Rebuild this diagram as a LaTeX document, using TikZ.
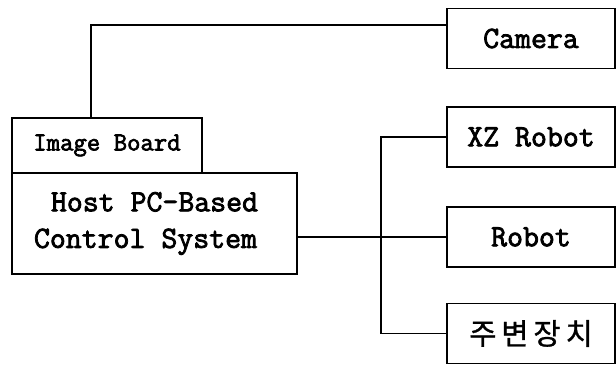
\documentclass[tikz,border=0pt]{standalone}
\usepackage{fontspec}
\newfontfamily\cour{Latin Modern Mono}[FakeBold=2.5]
\newfontfamily\kfont{Noto Sans CJK KR}[FakeBold=1]
\usetikzlibrary{calc}

\tikzset{
  blk/.style={draw,line width=1.1pt,inner sep=0pt,align=center,
    font=\cour\fontsize{22}{26}\selectfont},
  dev/.style={blk,minimum width=4.2cm,minimum height=1.5cm}
}

\begin{document}
\begin{tikzpicture}[x=0.025cm,y=-0.025cm,line width=1.1pt]
  \useasboundingbox (0,0) rectangle (616,365);
  % left side: host and its image board
  \node[blk,minimum width=7.125cm,minimum height=2.525cm] (host) at (154.5,223.5) {Host PC-Based\\Control System\hspace*{0.45cm}};
  \node[blk,minimum width=4.75cm,minimum height=1.375cm,font=\cour\fontsize{18.5}{20}\selectfont] (imgboard) at (107,145.5) {Image Board};
  % right side devices
  \node[dev] (camera) at (531,38.5) {Camera};
  \node[dev] (xz) at (531,137) {XZ Robot};
  \node[dev] (robot) at (531,237) {Robot};
  \node[dev,font=\kfont\fontsize{21}{25}\selectfont] (periph) at (531,333.5) {주\,변\,장\,치};
  % wiring
  \draw ([xshift=-0.4cm]imgboard.north) |- ([yshift=0.34cm]camera.west);
  \draw (host.east |- robot.west) -- (robot.west);
  \draw (xz.west) -- ++(-65,0) |- (periph.west);
\end{tikzpicture}
\end{document}
